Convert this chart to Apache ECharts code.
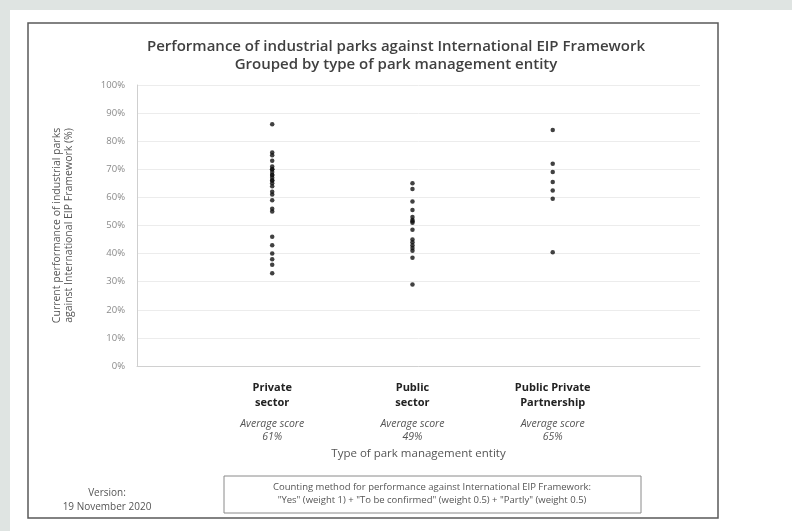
<!DOCTYPE html>
<html>
<head>
<meta charset="utf-8">
<script src="https://cdn.jsdelivr.net/npm/echarts@6/dist/echarts.min.js"></script>
<style>
  html, body { margin: 0; padding: 0; background: #dfe4e2; }
  #chart { width: 792px; height: 531px; }
</style>
</head>
<body>
<div id="chart"></div>
<script>
// ---- data ----
const categories = ['Private\nsector', 'Public\nsector', 'Public Private\nPartnership'];
const averageScores = ['61%', '49%', '65%'];
const privateSector = [86, 76, 75, 73, 71, 70, 70, 69, 68, 68, 67, 66, 66, 65, 64, 62, 61, 59, 56, 55, 46, 43, 40, 38, 36, 33];
const publicSector = [65, 63, 58.5, 55.5, 53, 52, 51.5, 51, 48.5, 45, 44, 43, 42, 41, 38.5, 29];
const ppp = [84, 72, 69, 65.5, 62.5, 59.5, 40.5];
const yTicks = [0, 10, 20, 30, 40, 50, 60, 70, 80, 90, 100];

const seriesValues = [privateSector, publicSector, ppp];
const FONT = '"Open Sans", "Liberation Sans", sans-serif';

const chart = echarts.init(document.getElementById('chart'));

const series = seriesValues.map((vals, i) => ({
  type: 'scatter',
  symbol: 'circle',
  symbolSize: 4.5,
  itemStyle: { color: '#111' },
  silent: true,
  data: vals.map(v => [i + 1, v])
}));

chart.setOption({
  backgroundColor: '#dfe4e2',
  animation: false,
  title: {
    text: 'Performance of industrial parks against International EIP Framework\nGrouped by type of park management entity',
    left: 'center',
    top: 33,
    textStyle: { fontFamily: FONT, fontSize: 15, fontWeight: 600, color: '#404040', lineHeight: 18 }
  },
  graphic: [
    { type: 'rect', z: -10, shape: { x: 10, y: 10, width: 782, height: 521 }, style: { fill: '#ffffff' } },
    { type: 'rect', z: -5, shape: { x: 28, y: 23, width: 690, height: 495 }, style: { fill: 'none', stroke: '#5a5a5a', lineWidth: 1.5 } },
    { type: 'rect', z: -5, shape: { x: 224, y: 476, width: 417, height: 37 }, style: { fill: 'none', stroke: '#8a8a8a', lineWidth: 1 } },
    { type: 'text', x: 432, y: 494, style: {
        text: 'Counting method for performance against International EIP Framework:\n"Yes" (weight 1) + "To be confirmed" (weight 0.5) + "Partly" (weight 0.5)',
        align: 'center', verticalAlign: 'middle', fontFamily: FONT, fontSize: 9.5, lineHeight: 13, fill: '#555' } },
    { type: 'text', x: 107, y: 500, style: {
        text: 'Version:\n19 November 2020',
        align: 'center', verticalAlign: 'middle', fontFamily: FONT, fontSize: 10, lineHeight: 14, fill: '#555' } }
  ],
  grid: { left: 137, right: 92, top: 85, bottom: 165 },
  xAxis: {
    type: 'value',
    min: 0.036,
    max: 4.05,
    name: 'Type of park management entity',
    nameLocation: 'middle',
    nameGap: 80,
    nameTextStyle: { fontFamily: FONT, fontSize: 11.5, color: '#555' },
    axisLine: { show: true, onZero: false, lineStyle: { color: '#d0d0d0', width: 1 } },
    axisTick: { show: false },
    splitLine: { show: false },
    axisLabel: {
      customValues: [1, 2, 3],
      margin: 14,
      formatter: function (v) {
        const i = Math.round(v) - 1;
        if (i < 0 || i >= categories.length) return '';
        return '{b|' + categories[i].split('\n').join('}\n{b|') + '}\n{g|}\n{it|Average score}\n{it|' + averageScores[i] + '}';
      },
      rich: {
        b: { fontFamily: FONT, fontSize: 11, fontWeight: 'bold', color: '#222', lineHeight: 15 },
        g: { fontSize: 4, lineHeight: 8 },
        it: { fontFamily: FONT, fontSize: 10.5, fontStyle: 'italic', color: '#555', lineHeight: 13 }
      }
    }
  },
  yAxis: {
    type: 'value',
    min: yTicks[0],
    max: yTicks[yTicks.length - 1],
    interval: yTicks[1] - yTicks[0],
    name: 'Current performance of industrial parks\nagainst International EIP Framework (%)',
    nameLocation: 'middle',
    nameGap: 62,
    nameTextStyle: { fontFamily: FONT, fontSize: 10.5, color: '#555', lineHeight: 12 },
    axisLine: { show: true, lineStyle: { color: '#cfcfcf', width: 1 } },
    axisTick: { show: false },
    axisLabel: { fontFamily: FONT, fontSize: 9.5, color: '#8a8a8a', margin: 12, formatter: '{value}%' },
    splitLine: { show: true, lineStyle: { color: '#ececec', width: 1 } }
  },
  series: series
});
</script>
</body>
</html>
